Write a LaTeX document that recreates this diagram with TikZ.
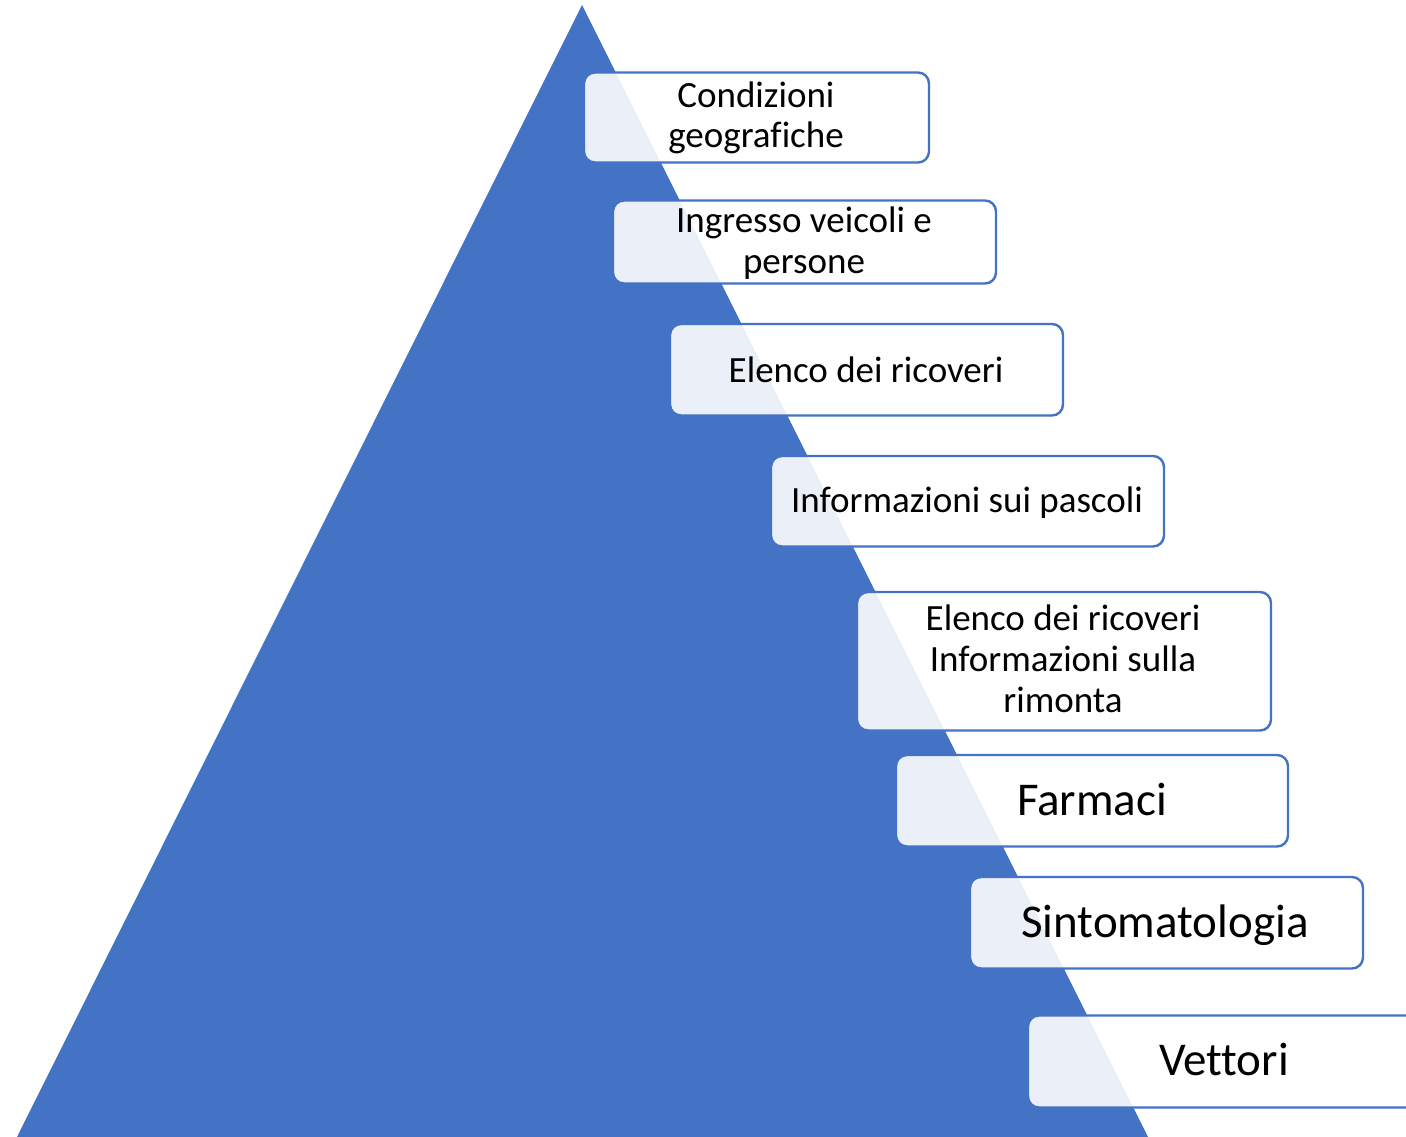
\documentclass[tikz,border=0pt]{standalone}
\usepackage{fontspec}
\setmainfont{Carlito}[Ligatures=NoCommon]
\definecolor{pblue}{HTML}{4472C4}
\begin{document}
\begin{tikzpicture}[x=1pt,y=-1pt,
  stepbox/.style={draw=pblue, line width=2.4pt, rounded corners=11pt, fill=white, fill opacity=0.89, text opacity=1, inner sep=0pt},
  lbl/.style={anchor=base, align=center, inner sep=0pt, font=\fontsize{37}{40.8}\selectfont},
  biglbl/.style={anchor=base, align=center, inner sep=0pt, font=\fontsize{47}{52}\selectfont}]
\useasboundingbox (0,0) rectangle (1406,1137);
\clip (0,0) rectangle (1406,1137);
\fill[pblue] (582,5) -- (1148,1137) -- (17,1137) -- cycle;
\path[stepbox] (584,72.5) rectangle (929,162.5) node[pos=0.5] (b1) {};
\path[stepbox] (613,200.5) rectangle (996,283.5) node[pos=0.5] (b2) {};
\path[stepbox] (670,324) rectangle (1063,415.5) node[pos=0.5] (b3) {};
\path[stepbox] (771,456) rectangle (1164,546.5) node[pos=0.5] (b4) {};
\path[stepbox] (857,592) rectangle (1271,730.5) node[pos=0.5] (b5) {};
\path[stepbox] (896,755) rectangle (1288,846.5) node[pos=0.5] (b6) {};
\path[stepbox] (970,877) rectangle (1363,968.5) node[pos=0.5] (b7) {};
\path[stepbox] (1028,1015.5) rectangle (1420,1107.5) node[pos=0.5] (b8) {};
\node[lbl] (t1) at (756,148) {Condizioni\\geografiche};
\node[lbl] (t2) at (804,273) {Ingresso veicoli e\\persone};
\node[lbl] (t3) at (866,382) {Elenco dei ricoveri};
\node[lbl] (t4) at (967,512) {Informazioni sui pascoli};
\node[lbl] (t5) at (1063,712) {Elenco dei ricoveri\\Informazioni sulla\\rimonta};
\node[biglbl] (t6) at (1092,815) {Farmaci};
\node[biglbl] (t7) at (1165,937) {Sintomatologia};
\node[biglbl] (t8) at (1224,1075) {Vettori};
\end{tikzpicture}
\end{document}
